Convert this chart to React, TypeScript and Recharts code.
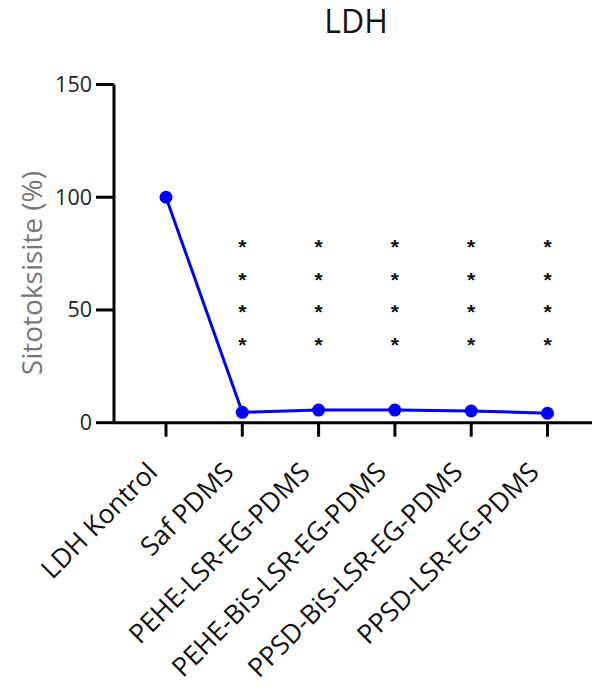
import React from "react";
import { LineChart, Line, XAxis, YAxis, Label } from "recharts";

// LDH cytotoxicity per sample group
const groups = [
  "LDH Kontrol",
  "Saf PDMS",
  "PEHE-LSR-EG-PDMS",
  "PEHE-BiS-LSR-EG-PDMS",
  "PPSD-BiS-LSR-EG-PDMS",
  "PPSD-LSR-EG-PDMS",
];
const cytotoxicity = [100, 4.6, 5.6, 5.6, 5.2, 4.2];
// significance marks versus the control, and the value at which the top mark sits
const significance = ["", "****", "****", "****", "****", "****"];
const markTop = [null, 80, 80, 80, 80, 80];
const yTicks = [0, 50, 100, 150];

const data = groups.map((g, i) => ({
  group: g,
  value: cytotoxicity[i],
  sig: significance[i],
  markTop: markTop[i],
}));

const FONT = "'Open Sans', 'Noto Sans', sans-serif";

const XTick = (props: any) => {
  const { x, y, payload } = props;
  return (
    <g transform={`translate(${x - 7},${y + 35})`}>
      <text
        transform="rotate(-45)"
        textAnchor="end"
        fontFamily={FONT}
        fontSize={26.5}
        fill="#111"
      >
        {payload.value}
      </text>
    </g>
  );
};

const YTick = (props: any) => {
  const { x, y, payload } = props;
  return (
    <text
      x={x - 2}
      y={y}
      dy={7.5}
      textAnchor="end"
      fontFamily={FONT}
      fontSize={21.5}
      fill="#222"
    >
      {payload.value}
    </text>
  );
};

const SigMarks = (props: any) => {
  const { cx, cy, payload } = props;
  if (!payload.sig || cx == null || cy == null) return <g />;
  return (
    <g>
      {payload.sig.split("").map((s: string, i: number) => (
        <text
          key={i}
          x={cx}
          y={cy + i * 32.4 + 12}
          textAnchor="middle"
          fontFamily="'Liberation Sans', Arial, sans-serif"
          fontWeight="bold"
          fontSize={21}
          fill="#111"
        >
          {s}
        </text>
      ))}
    </g>
  );
};

const YLabel = (props: any) => {
  const vb = props.viewBox;
  const cx = 31;
  const cy = vb.y + vb.height / 2 + 19.5;
  return (
    <text
      x={cx}
      y={cy}
      transform={`rotate(-90, ${cx}, ${cy})`}
      textAnchor="middle"
      dominantBaseline="central"
      fontFamily={FONT}
      fontSize={28}
      fill="#777"
    >
      Sitotoksisite (%)
    </text>
  );
};

export default function App() {
  return (
    <div
      style={{
        position: "absolute",
        left: 0,
        top: 0,
        width: 592,
        height: 690,
        background: "#fff",
      }}
    >
      <div
        style={{
          position: "absolute",
          left: 114,
          width: 478,
          top: 5,
          textAlign: "center",
          fontFamily: FONT,
          fontSize: 32,
          lineHeight: "32px",
          color: "#111",
          paddingLeft: 6,
          boxSizing: "border-box",
        }}
      >
        LDH
      </div>
      <LineChart
        width={592}
        height={690}
        data={data}
        margin={{ top: 84.5, right: 0, bottom: 27.3, left: 54 }}
      >
        <XAxis
          dataKey="group"
          type="category"
          interval={0}
          height={240}
          padding={{ left: 52, right: 44.5 }}
          axisLine={{ stroke: "#000", strokeWidth: 3 }}
          tickLine={{ stroke: "#000", strokeWidth: 3 }}
          tickSize={14}
          tick={<XTick />}
        />
        <YAxis
          width={60}
          domain={[0, 150]}
          ticks={yTicks}
          interval={0}
          axisLine={{ stroke: "#000", strokeWidth: 3 }}
          tickLine={{ stroke: "#000", strokeWidth: 3 }}
          tickSize={18}
          tick={<YTick />}
        >
          <Label content={<YLabel />} />
        </YAxis>
        <Line
          dataKey="value"
          stroke="#0000ff"
          strokeWidth={3}
          dot={{ r: 6.5, fill: "#0000ff", stroke: "#0000ff", strokeWidth: 0 }}
          isAnimationActive={false}
        />
        <Line
          dataKey="markTop"
          stroke="none"
          dot={<SigMarks />}
          activeDot={false}
          legendType="none"
          isAnimationActive={false}
        />
      </LineChart>
    </div>
  );
}
